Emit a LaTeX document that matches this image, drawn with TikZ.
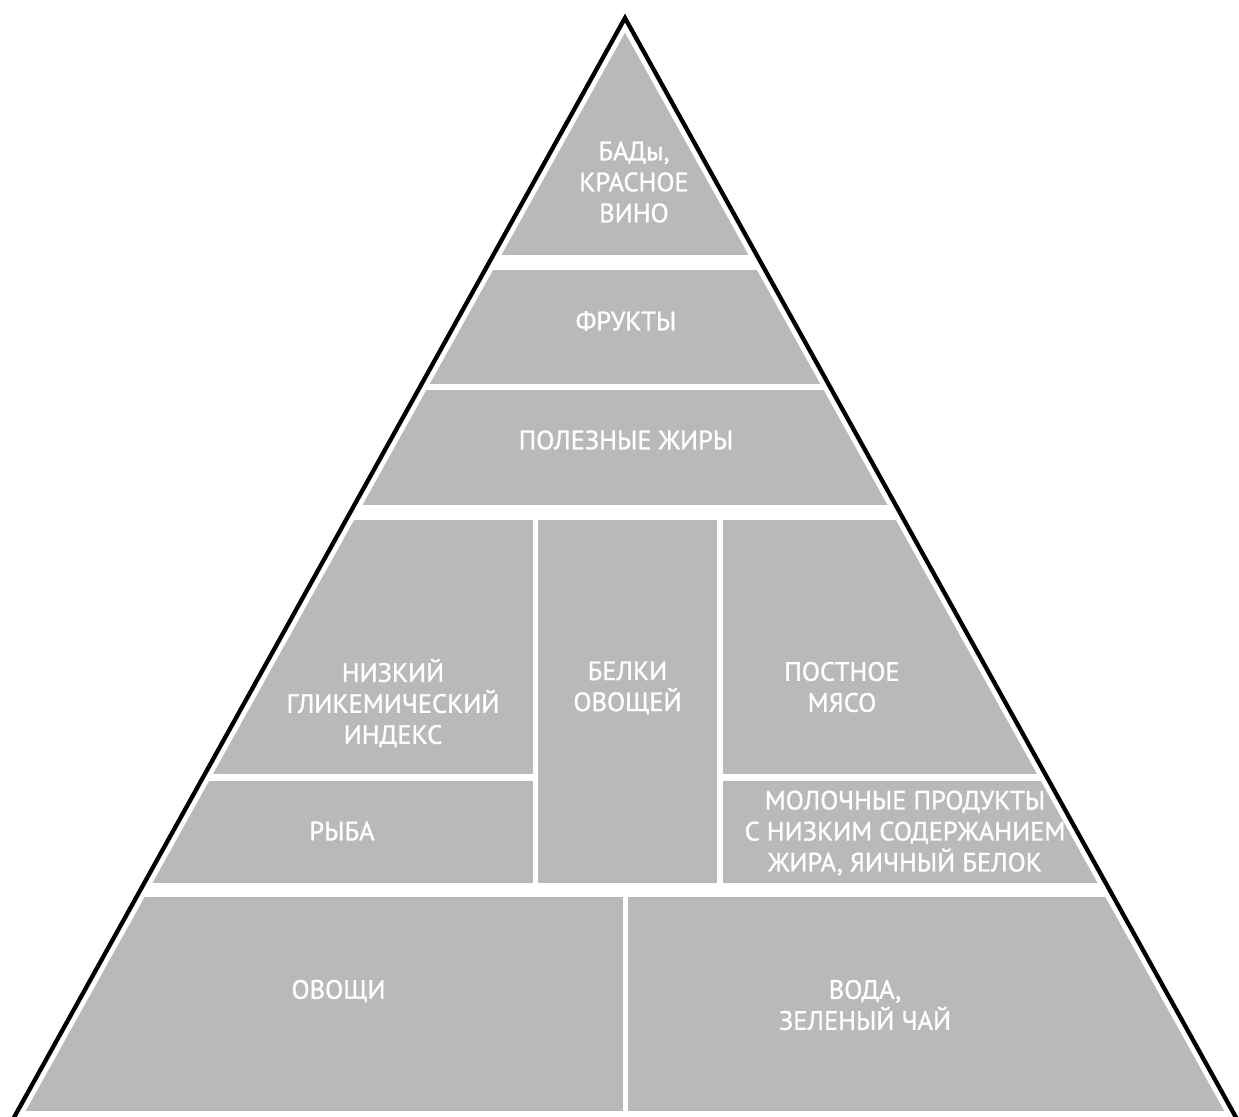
\documentclass[tikz,border=0pt]{standalone}
\usepackage{fontspec}
\setmainfont{PT Sans}
\newfontfamily\lblfont{PT Sans}[FakeBold=1.2]
\definecolor{pyr}{RGB}{185,185,185}
\tikzset{
  lbl/.style={text=white, font=\lblfont\fontsize{26.5}{31}\selectfont, align=center, inner sep=0pt, anchor=center},
  gap/.style={fill=white, draw=none}
}
\begin{document}
\begin{tikzpicture}[x=1pt, y=-1pt]
\useasboundingbox (0,0) rectangle (1239,1116);
% grey body
\fill[pyr] (7,1130) -- (625,18) -- (1243,1130) -- cycle;
% white gaps between blocks
\fill[gap] (0,255) rectangle (1239,270);
\fill[gap] (0,384) rectangle (1239,390);
\fill[gap] (0,505) rectangle (1239,520);
\fill[gap] (0,883) rectangle (1239,897);
\fill[gap] (0,1111) rectangle (1239,1130);
\fill[gap] (533,518) rectangle (538,885);
\fill[gap] (717,518) rectangle (723,885);
\fill[gap] (0,774) rectangle (535,781);
\fill[gap] (720,774) rectangle (1239,781);
\fill[gap] (623,895) rectangle (628,1113);
% outline
\draw[white, line width=14pt, line join=miter] (7,1130) -- (625,18) -- (1243,1130);
\draw[black, line width=4.3pt, line join=miter] (7,1130) -- (625,18) -- (1243,1130);
% labels
\node[lbl] (bad) at (634,182) {БАДы,\\КРАСНОЕ\\ВИНО};
\node[lbl] (fruit) at (626,321) {ФРУКТЫ};
\node[lbl] (fats) at (626,440) {ПОЛЕЗНЫЕ ЖИРЫ};
\node[lbl] (gi) at (393,703) {НИЗКИЙ\\ГЛИКЕМИЧЕСКИЙ\\ИНДЕКС};
\node[lbl] (veg) at (627.5,688) {БЕЛКИ\\ОВОЩЕЙ};
\node[lbl] (meat) at (842,687) {ПОСТНОЕ\\МЯСО};
\node[lbl] (fish) at (342,831) {РЫБА};
\node[lbl] (dairy) at (905,833) {МОЛОЧНЫЕ ПРОДУКТЫ\\С НИЗКИМ СОДЕРЖАНИЕМ\\ЖИРА, ЯИЧНЫЙ БЕЛОК};
\node[lbl] (vegs) at (338.5,991) {ОВОЩИ};
\node[lbl] (water) at (865,1005) {ВОДА,\\ЗЕЛЕНЫЙ ЧАЙ};
\end{tikzpicture}
\end{document}
